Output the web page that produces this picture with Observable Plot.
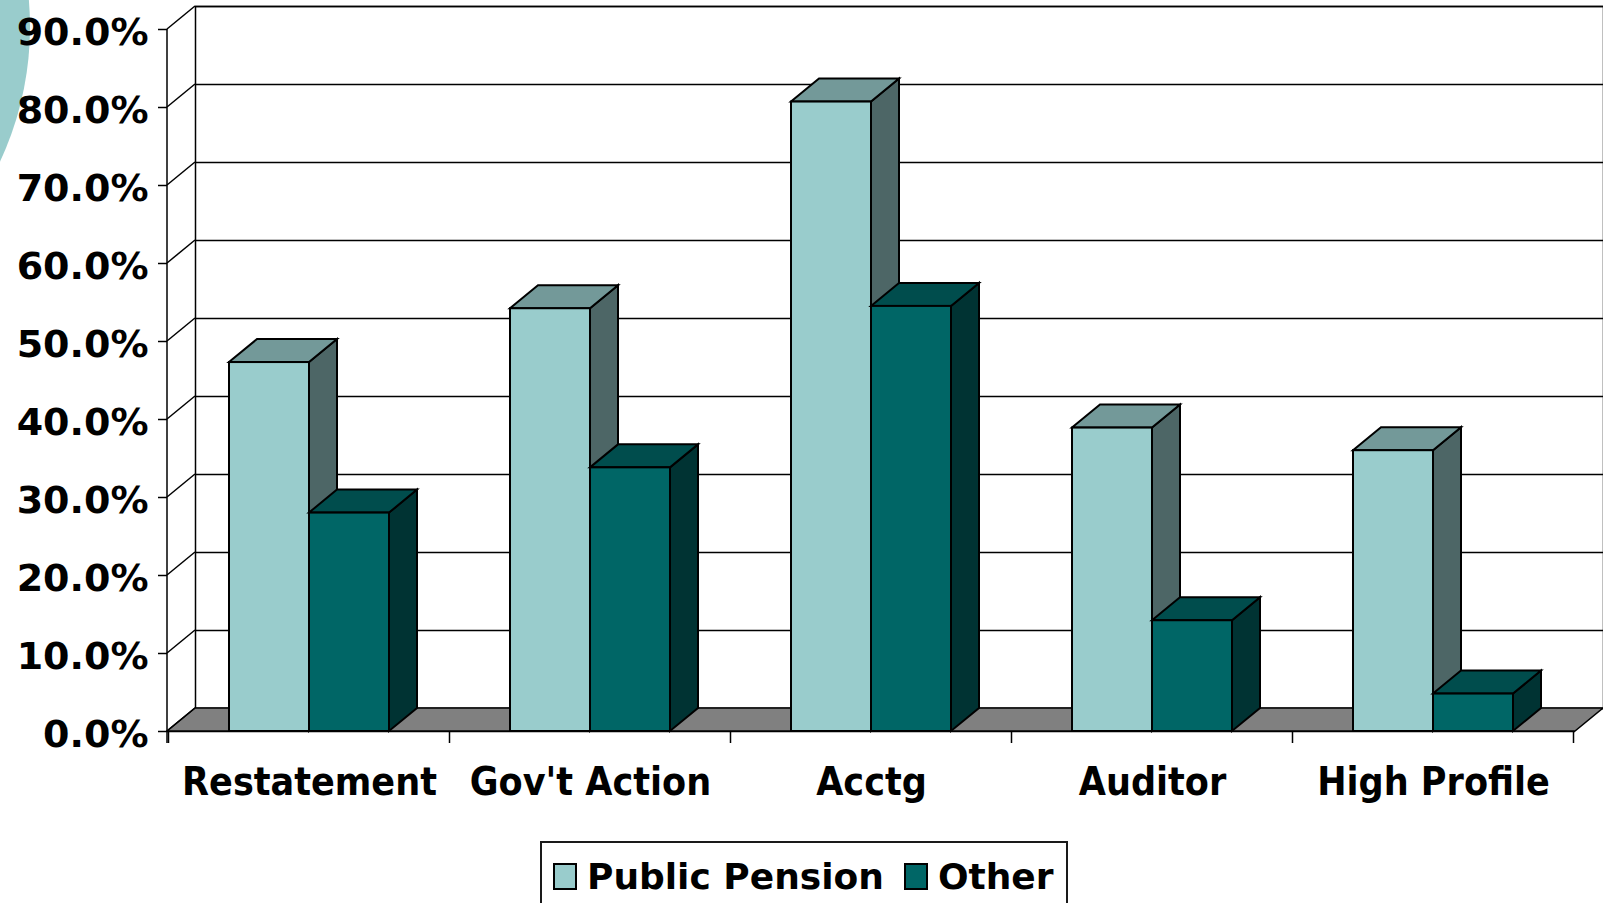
<!DOCTYPE html>
<html>
<head>
<meta charset="utf-8">
<script src="https://cdn.jsdelivr.net/npm/d3@7"></script>
<script src="https://cdn.jsdelivr.net/npm/@observablehq/plot@0.6"></script>
<style>
  html, body { margin: 0; padding: 0; background: #fff; overflow: hidden; width: 1603px; height: 903px; }
  #deco { position: absolute; left: -604px; top: -290px; width: 634px; height: 634px; border-radius: 50%; background: #99CCCC; z-index: 0; }
  #chart { position: relative; z-index: 1; height: 841px; }
  #legend { position: relative; z-index: 1; margin-left: 540px; width: 528px; height: 80px; box-sizing: border-box;
            border: 2px solid #1a1a1a; display: flex; align-items: flex-start; padding-left: 11px; padding-top: 19px;
            font-family: "DejaVu Sans", sans-serif; font-weight: bold; font-size: 36px; line-height: 30px; color: #000; }
  #legend .sw { width: 24px; height: 27px; box-sizing: border-box; border: 2px solid #000; margin-top: 1px; flex: none; }
  #legend .lab { white-space: nowrap; }
</style>
</head>
<body>
<div id="deco"></div>
<div id="chart"></div>
<div id="legend"></div>
<script>
// ---- data ----
const categories = ["Restatement", "Gov't Action", "Acctg", "Auditor", "High Profile"];
const seriesNames = ["Public Pension", "Other"];
const publicPension = [0.473, 0.542, 0.807, 0.389, 0.360];
const other = [0.280, 0.338, 0.545, 0.142, 0.048];
const yTicks = [0, 0.1, 0.2, 0.3, 0.4, 0.5, 0.6, 0.7, 0.8, 0.9];

// ---- styles ----
const frontColors = ["#99CCCC", "#006666"];
const topColors = ["#739999", "#004D4D"];
const sideColors = ["#4D6666", "#003333"];
const DX = 28, DY = -23;          // 3-D depth offset
const BAR_HALF = 80;              // half of band width (one series bar)
const labelFont = "'DejaVu Sans Condensed', 'DejaVu Sans', sans-serif";

const rows = categories.flatMap((c, i) => [
  {category: c, series: seriesNames[0], value: publicPension[i]},
  {category: c, series: seriesNames[1], value: other[i]}
]);

const plot = Plot.plot({
  width: 1603,
  height: 841,
  marginLeft: 167,
  marginRight: 28,
  marginTop: 29,
  marginBottom: 110,
  style: {fontFamily: "DejaVu Sans", background: "transparent", color: "#000", overflow: "visible"},
  x: {domain: categories, paddingInner: 0.432, paddingOuter: 0.216, label: null},
  y: {domain: [0, 0.9], label: null},
  marks: [
    // back wall
    Plot.frame({dx: DX, dy: DY, stroke: "#000", strokeWidth: 1.5}),
    Plot.ruleY(yTicks, {dx: DX, dy: DY, stroke: "#000", strokeWidth: 1.5}),
    // front floor edge
    Plot.ruleY([0], {stroke: "#000", strokeWidth: 1.5}),
    // series bars (front faces)
    Plot.barY(rows.filter(d => d.series === seriesNames[0]), {
      x: "category", y: "value", fill: frontColors[0], stroke: "#000", strokeWidth: 2,
      insetLeft: 0, insetRight: BAR_HALF, strokeLinejoin: "miter"
    }),
    Plot.barY(rows.filter(d => d.series === seriesNames[1]), {
      x: "category", y: "value", fill: frontColors[1], stroke: "#000", strokeWidth: 2,
      insetLeft: BAR_HALF, insetRight: 0, strokeLinejoin: "miter"
    }),
    // axes
    Plot.axisY({ticks: yTicks, tickFormat: () => "", tickSize: 9, stroke: "#000", strokeWidth: 1.5}),
    Plot.axisY({ticks: yTicks, tickFormat: d3.format(".1%"), tickSize: 0, tickPadding: 19, dy: 3.5,
                fontSize: 38, fontWeight: "bold", fontFamily: "DejaVu Sans", label: null}),
    Plot.axisX({tickSize: 0, tickPadding: 36, fontSize: 39, fontWeight: "bold", fontFamily: labelFont, label: null})
  ]
});

document.getElementById("chart").appendChild(plot);

// ---- 3-D decorations derived from Plot's scales ----
const svgEl = plot.tagName.toLowerCase() === "svg" ? plot : plot.querySelector("svg");
const svg = d3.select(svgEl);
const xs = plot.scale("x"), ys = plot.scale("y");
const bw = xs.bandwidth, step = xs.step;
const [xr0, xr1] = xs.range;
const y0 = ys.apply(0);
const barGroups = svg.selectAll('g[aria-label="bar"]').nodes();

// floor + left side wall
const floorG = d3.create("svg:g");
floorG.append("polygon")
  .attr("points", [[xr0, y0], [xr1, y0], [xr1 + DX, y0 + DY], [xr0 + DX, y0 + DY]].map(p => p.join(",")).join(" "))
  .attr("fill", "#808080").attr("stroke", "#000").attr("stroke-width", 1.5).attr("stroke-linejoin", "miter");
yTicks.forEach(t => {
  const yy = ys.apply(t);
  floorG.append("line").attr("x1", xr0).attr("y1", yy).attr("x2", xr0 + DX).attr("y2", yy + DY)
    .attr("stroke", "#000").attr("stroke-width", 1.5);
});
// front vertical axis line
floorG.append("line").attr("x1", xr0).attr("x2", xr0).attr("y1", ys.apply(yTicks[yTicks.length - 1])).attr("y2", y0 + 12)
  .attr("stroke", "#000").attr("stroke-width", 1.5);
// category boundary ticks
const bounds = categories.map(c => xs.apply(c) - (step - bw) / 2);
bounds.push(xs.apply(categories[categories.length - 1]) + bw + (step - bw) / 2);
bounds.forEach(bx => {
  floorG.append("line").attr("x1", bx).attr("x2", bx).attr("y1", y0).attr("y2", y0 + 12)
    .attr("stroke", "#000").attr("stroke-width", 1.5);
});
svgEl.insertBefore(floorG.node(), barGroups[0]);

// tops and sides for each series
const seriesValues = [publicPension, other];
seriesValues.forEach((vals, s) => {
  const g = d3.create("svg:g");
  categories.forEach((c, i) => {
    const x0 = xs.apply(c) + s * BAR_HALF;
    const x1 = x0 + BAR_HALF;
    const yt = ys.apply(vals[i]);
    g.append("polygon")
      .attr("points", [[x1, yt], [x1 + DX, yt + DY], [x1 + DX, y0 + DY], [x1, y0]].map(p => p.join(",")).join(" "))
      .attr("fill", sideColors[s]).attr("stroke", "#000").attr("stroke-width", 2).attr("stroke-linejoin", "miter");
    g.append("polygon")
      .attr("points", [[x0, yt], [x0 + DX, yt + DY], [x1 + DX, yt + DY], [x1, yt]].map(p => p.join(",")).join(" "))
      .attr("fill", topColors[s]).attr("stroke", "#000").attr("stroke-width", 2).attr("stroke-linejoin", "miter");
  });
  svgEl.insertBefore(g.node(), barGroups[s]);
});

// ---- legend ----
const legend = d3.select("#legend");
seriesNames.forEach((name, s) => {
  legend.append("div").attr("class", "sw").style("background", frontColors[s]);
  legend.append("div").attr("class", "lab")
    .style("margin-left", "10px").style("margin-right", s === 0 ? "20px" : "0px")
    .text(name);
});
</script>
</body>
</html>
